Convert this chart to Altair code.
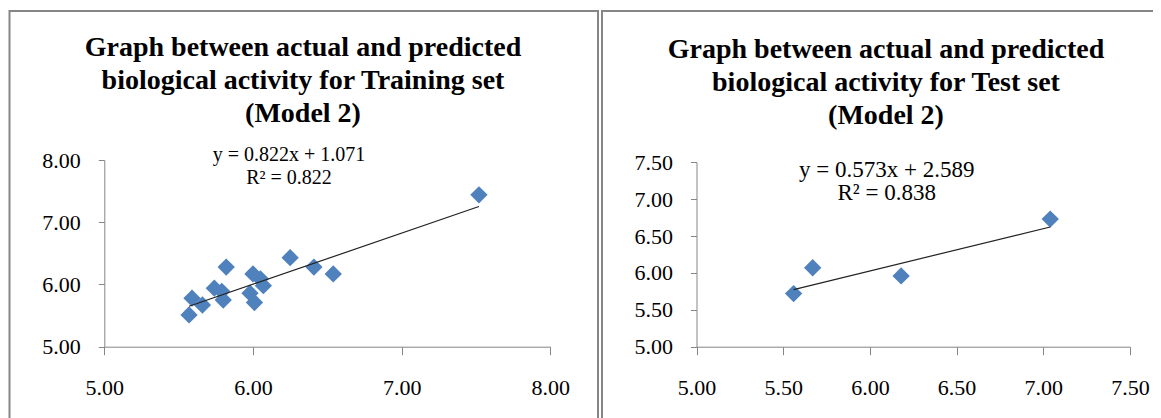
import altair as alt
import pandas as pd

# ---- data ----
train_actual = [7.52, 5.82, 6.25, 6.41, 6.54, 6.00, 6.05, 6.07, 5.74, 5.79, 5.80, 5.98, 6.01, 5.59, 5.66, 5.57]
train_predicted = [7.44, 6.28, 6.43, 6.28, 6.17, 6.17, 6.09, 5.98, 5.94, 5.89, 5.75, 5.86, 5.71, 5.78, 5.67, 5.51]
test_actual = [5.56, 5.67, 6.18, 7.04]
test_predicted = [5.72, 6.07, 5.96, 6.73]

train_slope, train_intercept = 0.822, 1.071
test_slope, test_intercept = 0.573, 2.589

train_ticks = [5.0, 6.0, 7.0, 8.0]
test_ticks = [5.0, 5.5, 6.0, 6.5, 7.0, 7.5]

train_title = ["Graph between actual and predicted",
               "biological activity for Training set",
               "(Model 2)"]
test_title = ["Graph between actual and predicted",
              "biological activity for Test set",
              "(Model 2)"]
train_eq = ["y = 0.822x + 1.071", "R\u00b2 = 0.822"]
test_eq = ["y = 0.573x + 2.589", "R\u00b2 = 0.838"]

# ---- tables ----
train_df = pd.DataFrame({"actual": train_actual, "predicted": train_predicted})
test_df = pd.DataFrame({"actual": test_actual, "predicted": test_predicted})
tx = [min(train_actual), max(train_actual)]
train_line = pd.DataFrame({"actual": tx, "predicted": [train_slope * v + train_intercept for v in tx]})
sx = [min(test_actual), max(test_actual)]
test_line = pd.DataFrame({"actual": sx, "predicted": [test_slope * v + test_intercept for v in sx]})
one = pd.DataFrame({"k": [0]})

W, H = 1145, 410
BLUE = "#4F81BD"
GRAY = "#868686"
SERIF = "Liberation Serif"

# plot-area pixel ranges inside the single view
L_X = [96.3, 542.3]
L_Y = [338.7, 152.0]
R_X = [688.5, 1122.0]
R_Y = [338.7, 154.3]

AX = dict(format=".2f", labelFlush=False, labelOverlap=False, grid=False, title=None,
          labelFont=SERIF, labelFontSize=22, labelColor="black",
          domainColor=GRAY, tickColor=GRAY, domainWidth=1, tickWidth=1)


def xaxis(ticks, pos_y):
    return alt.Axis(orient="bottom", offset=pos_y - H, values=ticks,
                    tickSize=8, labelPadding=23, **AX)


def yaxis(ticks, pos_x):
    return alt.Axis(orient="left", offset=-pos_x, values=ticks,
                    tickSize=6, labelPadding=18, **AX)


def panel(df, line_df, dom, xr, yr, ticks):
    xs = alt.Scale(domain=dom, range=xr, nice=False, zero=False)
    ys = alt.Scale(domain=dom, range=yr, nice=False, zero=False)
    pts = alt.Chart(df).mark_point(shape="diamond", filled=True, size=300,
                                   color=BLUE, opacity=1).encode(
        x=alt.X("actual:Q", scale=xs, axis=xaxis(ticks, yr[0])),
        y=alt.Y("predicted:Q", scale=ys, axis=yaxis(ticks, xr[0])),
    )
    ln = alt.Chart(line_df).mark_line(color="#222222", strokeWidth=1.2).encode(
        x=alt.X("actual:Q", scale=xs, axis=None),
        y=alt.Y("predicted:Q", scale=ys, axis=None),
    )
    return [pts, ln]


def frame(x1, x2):
    return alt.Chart(one).mark_rect(fill=None, stroke=GRAY, strokeWidth=2).encode(
        x=alt.value(x1), x2=alt.value(x2), y=alt.value(3), y2=alt.value(H + 40)
    )


def text(lines, x, y, size, lh, bold):
    kw = dict(text=lines, font=SERIF, fontSize=size, lineHeight=lh,
              align="center", baseline="alphabetic", color="black")
    if bold:
        kw["fontWeight"] = "bold"
    return alt.Chart(one).mark_text(**kw).encode(x=alt.value(x), y=alt.value(y))


layers = [
    frame(1.5, 590),
    frame(594, W + 40),
    text(train_title, 295, 47.7, 28, 33, True),
    text(test_title, 878, 50, 28, 33, True),
    *panel(train_df, train_line, [5, 8], L_X, L_Y, train_ticks),
    *panel(test_df, test_line, [5, 7.5], R_X, R_Y, test_ticks),
    text(train_eq, 281, 153, 20, 23, False),
    text(test_eq, 878.7, 169, 23, 23, False),
]

chart = alt.layer(*layers).resolve_scale(
    x="independent", y="independent"
).properties(
    width=W, height=H, padding=0, autosize=alt.AutoSizeParams(type="none")
).configure_view(stroke=None)

chart.save("out.html", embed_options={"renderer": "svg", "actions": False})
